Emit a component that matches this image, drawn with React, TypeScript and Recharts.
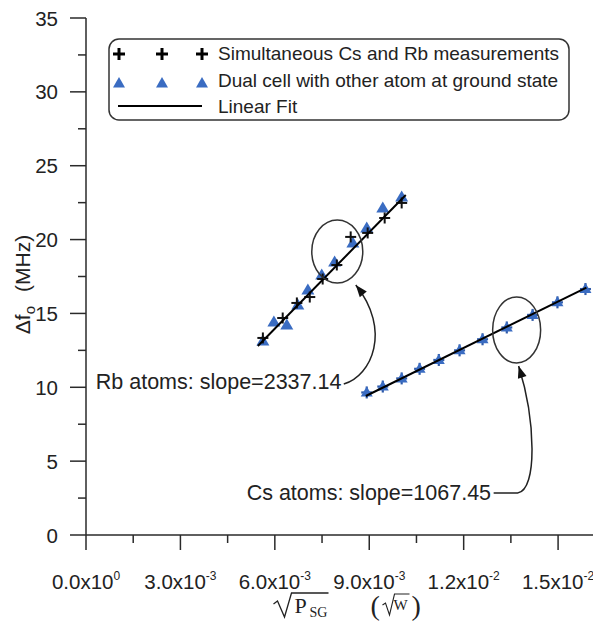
import React from 'react';
import { ScatterChart, Scatter, XAxis, YAxis, ReferenceDot, Legend, Label } from 'recharts';

// ---- data (x in sqrt(W), y in MHz) ----
const rbPlusX = [0.00562, 0.00625, 0.0067, 0.00711, 0.00752, 0.00797, 0.00841, 0.00895, 0.00949, 0.01003];
const rbPlusY = [13.34, 14.69, 15.71, 16.11, 17.33, 18.28, 20.18, 20.45, 21.46, 22.48];
const rbTriX = [0.00562, 0.00597, 0.00638, 0.00673, 0.00705, 0.00749, 0.0079, 0.00848, 0.00892, 0.00943, 0.01003];
const rbTriY = [13.13, 14.42, 14.22, 15.57, 16.59, 17.6, 18.48, 19.77, 20.79, 22.14, 22.88];
const csTriX = [0.00892, 0.00943, 0.01003, 0.0106, 0.01121, 0.01187, 0.0126, 0.01337, 0.01419, 0.01498, 0.01587];
const csTriY = [9.65, 10.05, 10.6, 11.25, 11.85, 12.5, 13.25, 14.05, 14.9, 15.75, 16.65];
const rbFitX = [0.00546, 0.01016];
const rbFitY = [12.8, 23.02];
const csFitX = [0.00889, 0.0159];
const csFitY = [9.41, 16.75];

// ellipse annotation centres
const rbEllipse = { x: 0.007984, y: 19.19 };
const csEllipse = { x: 0.013683, y: 13.88 };

// ticks
const xTickValues = [0, 0.0015, 0.003, 0.0045, 0.006, 0.0075, 0.009, 0.0105, 0.012, 0.0135, 0.015];
const xTickMantissa = ['0.0', '', '3.0', '', '6.0', '', '9.0', '', '1.2', '', '1.5'];
const xTickExponent = ['0', '', '-3', '', '-3', '', '-3', '', '-2', '', '-2'];
const yTickValues = [0, 2.5, 5, 7.5, 10, 12.5, 15, 17.5, 20, 22.5, 25, 27.5, 30, 32.5, 35];
const yTickLabels = ['0', '', '5', '', '10', '', '15', '', '20', '', '25', '', '30', '', '35'];

const legendLabels = [
  'Simultaneous Cs and Rb measurements',
  'Dual cell with other atom at ground state',
  'Linear Fit',
];
const rbLabel = 'Rb atoms: slope=2337.14';
const csLabel = 'Cs atoms: slope=1067.45';

const zip = (xs: number[], ys: number[]) => xs.map((x, i) => ({ x, y: ys[i] }));
const rbPlus = zip(rbPlusX, rbPlusY);
const rbTri = zip(rbTriX, rbTriY);
const csTri = zip(csTriX, csTriY);
const rbFit = zip(rbFitX, rbFitY);
const csFit = zip(csFitX, csFitY);

const SANS = 'Liberation Sans, Arial, Helvetica, sans-serif';
const SERIF = 'Liberation Serif, Times New Roman, serif';
const BLUE = '#3a6cc2';
const AXIS = '#2a2a2a';

const PlusShape = (p: any) => {
  const { cx, cy } = p;
  return (
    <g stroke="#111" strokeWidth={2}>
      <line x1={cx - 5.5} y1={cy} x2={cx + 5.5} y2={cy} />
      <line x1={cx} y1={cy - 5.5} x2={cx} y2={cy + 5.5} />
    </g>
  );
};
const TriShape = (p: any) => {
  const { cx, cy } = p;
  return <path d={`M${cx},${cy - 6.5}L${cx + 6.5},${cy + 4.5}L${cx - 6.5},${cy + 4.5}Z`} fill={BLUE} />;
};
const StarShape = (p: any) => {
  const { cx, cy } = p;
  return (
    <g>
      <g stroke="#2f5aa8" strokeWidth={2.2}>
        <line x1={cx - 5.5} y1={cy} x2={cx + 5.5} y2={cy} />
        <line x1={cx} y1={cy - 6} x2={cx} y2={cy + 6} />
      </g>
      <path d={`M${cx},${cy - 6}L${cx + 6},${cy + 4}L${cx - 6},${cy + 4}Z`} fill={BLUE} />
    </g>
  );
};
const NoShape = () => <g />;

const XTick = (p: any) => {
  const { x, y, payload, index } = p;
  const i = xTickValues.findIndex((v) => Math.abs(v - payload.value) < 1e-9);
  const mant = i >= 0 ? xTickMantissa[i] : '';
  const exp = i >= 0 ? xTickExponent[i] : '';
  const major = mant !== '';
  return (
    <g key={index}>
      <line x1={x} y1={y} x2={x} y2={y + (major ? 15 : 8)} stroke={AXIS} strokeWidth={1.5} />
      {major && (
        <text x={x} y={y + 54} textAnchor="middle" fontFamily={SANS} fontSize={20.5} fill="#222">
          {mant}x10
          <tspan dy={-9} fontSize={12}>{exp}</tspan>
        </text>
      )}
    </g>
  );
};

const YTick = (p: any) => {
  const { x, y, payload, index } = p;
  const i = yTickValues.findIndex((v) => Math.abs(v - payload.value) < 1e-9);
  const lab = i >= 0 ? yTickLabels[i] : '';
  const major = lab !== '';
  return (
    <g key={index}>
      <line x1={x} y1={y} x2={x - (major ? 16 : 8)} y2={y} stroke={AXIS} strokeWidth={1.5} />
      {major && (
        <text x={x - 28} y={y + 7.5} textAnchor="end" fontFamily={SANS} fontSize={20.5} fill="#222">
          {lab}
        </text>
      )}
    </g>
  );
};

const XTitle = (p: any) => {
  const vb = p.viewBox || {};
  const cx = vb.x + vb.width / 2 + 5;
  const top = vb.y;
  const b = top + 78; // baseline of P
  return (
    <g fill="#222" stroke="none">
      <path
        d={`M${cx - 74},${b - 9} L${cx - 70},${b - 12} L${cx - 63},${b + 4} L${cx - 56},${b - 20} L${cx - 19},${b - 20}`}
        fill="none"
        stroke="#222"
        strokeWidth={1.3}
      />
      <text x={cx - 53} y={b} fontFamily={SERIF} fontSize={22}>P</text>
      <text x={cx - 38} y={b + 4} fontFamily={SERIF} fontSize={14}>SG</text>
      <text x={cx + 23} y={b + 2} fontFamily={SERIF} fontSize={28}>(</text>
      <path
        d={`M${cx + 35},${b - 8} L${cx + 38},${b - 10} L${cx + 42},${b + 2} L${cx + 47},${b - 19} L${cx + 62},${b - 19}`}
        fill="none"
        stroke="#222"
        strokeWidth={1.1}
      />
      <text x={cx + 46} y={b - 3} fontFamily={SERIF} fontSize={15}>W</text>
      <text x={cx + 64} y={b + 2} fontFamily={SERIF} fontSize={28}>)</text>
    </g>
  );
};

const YTitle = (p: any) => {
  const vb = p.viewBox || {};
  const x = vb.x + 22;
  const y = vb.y + vb.height / 2 + 8;
  return (
    <text
      x={x}
      y={y}
      transform={`rotate(-90, ${x}, ${y})`}
      textAnchor="middle"
      fontFamily={SANS}
      fontSize={21}
      fill="#222"
    >
      Δf
      <tspan dy={5} fontSize={15}>o</tspan>
      <tspan dy={-5} dx={14}>(MHz)</tspan>
    </text>
  );
};

const Arrow = ({ d }: { d: string }) => {
  const nums = d.match(/-?\d+(\.\d+)?/g)!.map(Number);
  const n = nums.length;
  const ex = nums[n - 2], ey = nums[n - 1];
  const px = nums[n - 4], py = nums[n - 3];
  const ang = Math.atan2(ey - py, ex - px);
  const L = 12, W = 4.5;
  const bx = ex - L * Math.cos(ang), by = ey - L * Math.sin(ang);
  const nx = -Math.sin(ang) * W, ny = Math.cos(ang) * W;
  return (
    <g>
      <path d={d} fill="none" stroke="#222" strokeWidth={1.5} />
      <path d={`M${ex},${ey} L${bx + nx},${by + ny} L${bx - nx},${by - ny} Z`} fill="#111" />
    </g>
  );
};

const RbAnnot = (p: any) => {
  const { cx, cy } = p;
  const t = (dx: number, dy: number) => `${cx + dx},${cy + dy}`;
  return (
    <g>
      <ellipse cx={cx} cy={cy} rx={25.5} ry={31.5} fill="none" stroke="#333" strokeWidth={1.5} />
      <Arrow d={`M${t(6.5, 132.5)} C${t(34.5, 124.5)} ${t(54.5, 78.5)} ${t(18.5, 33.5)}`} />
      <text x={cx - 241.5} y={cy + 137.5} fontFamily={SANS} fontSize={21.5} fill="#222">{rbLabel}</text>
    </g>
  );
};

const CsAnnot = (p: any) => {
  const { cx, cy } = p;
  const t = (dx: number, dy: number) => `${cx + dx},${cy + dy}`;
  return (
    <g>
      <ellipse cx={cx} cy={cy} rx={24} ry={33} fill="none" stroke="#333" strokeWidth={1.5} />
      <Arrow d={`M${t(-23, 163)} L${t(1, 163)} C${t(21, 160)} ${t(19, 90)} ${t(2, 36)}`} />
      <text x={cx - 270} y={cy + 170} fontFamily={SANS} fontSize={21.5} fill="#222">{csLabel}</text>
    </g>
  );
};

const LegendBox = () => {
  const mx = [11, 54, 94];
  const plus = (x: number, y: number, k: number) => (
    <g key={'p' + k} stroke="#000" strokeWidth={3}>
      <line x1={x - 6} y1={y} x2={x + 6} y2={y} />
      <line x1={x} y1={y - 6} x2={x} y2={y + 6} />
    </g>
  );
  const tri = (x: number, y: number, k: number) => (
    <path key={'t' + k} d={`M${x},${y - 6}L${x + 6},${y + 4.5}L${x - 6},${y + 4.5}Z`} fill={BLUE} />
  );
  return (
    <svg width={464} height={84} style={{ display: 'block' }}>
      <rect x={1} y={1} width={460} height={81} rx={10} ry={10} fill="#fff" stroke="#333" strokeWidth={1.5} />
      {mx.map((x, k) => plus(x, 16, k))}
      {mx.map((x, k) => tri(x, 45, k))}
      <line x1={10} y1={68} x2={94} y2={68} stroke="#000" strokeWidth={1.8} />
      <text x={110} y={22} fontFamily={SANS} fontSize={19} fill="#222">{legendLabels[0]}</text>
      <text x={110} y={49} fontFamily={SANS} fontSize={19} fill="#222">{legendLabels[1]}</text>
      <text x={110} y={75} fontFamily={SANS} fontSize={19} fill="#222">{legendLabels[2]}</text>
    </svg>
  );
};

export default function App() {
  return (
    <div style={{ width: 593, height: 618 }}>
      <ScatterChart width={593} height={618} margin={{ top: 10, right: 2, left: 0, bottom: 0 }}>
        <XAxis
          type="number"
          dataKey="x"
          domain={[0, 0.0163]}
          ticks={xTickValues}
          interval={0}
          tick={<XTick />}
          tickLine={false}
          tickSize={0}
          tickMargin={0}
          axisLine={{ stroke: AXIS, strokeWidth: 1.5 }}
          height={91}
          allowDataOverflow
        >
          <Label content={<XTitle />} />
        </XAxis>
        <YAxis
          type="number"
          dataKey="y"
          domain={[0, 35]}
          ticks={yTickValues}
          interval={0}
          tick={<YTick />}
          tickLine={false}
          tickSize={0}
          tickMargin={0}
          axisLine={{ stroke: AXIS, strokeWidth: 1.5 }}
          width={78}
          allowDataOverflow
        >
          <Label content={<YTitle />} />
        </YAxis>
        <Legend
          layout="horizontal"
          verticalAlign="middle"
          align="center"
          wrapperStyle={{ left: 100, top: 30, width: 464, height: 84 }}
          content={<LegendBox />}
        />
        <Scatter data={rbTri} shape={TriShape} isAnimationActive={false} legendType="none" />
        <Scatter data={rbPlus} shape={PlusShape} isAnimationActive={false} legendType="none" />
        <Scatter data={csTri} shape={StarShape} isAnimationActive={false} legendType="none" />
        <Scatter
          data={rbFit}
          shape={NoShape}
          line={{ stroke: '#000', strokeWidth: 2 }}
          lineType="joint"
          isAnimationActive={false}
          legendType="none"
        />
        <Scatter
          data={csFit}
          shape={NoShape}
          line={{ stroke: '#000', strokeWidth: 2 }}
          lineType="joint"
          isAnimationActive={false}
          legendType="none"
        />
        <ReferenceDot x={rbEllipse.x} y={rbEllipse.y} shape={RbAnnot} />
        <ReferenceDot x={csEllipse.x} y={csEllipse.y} shape={CsAnnot} />
      </ScatterChart>
    </div>
  );
}
